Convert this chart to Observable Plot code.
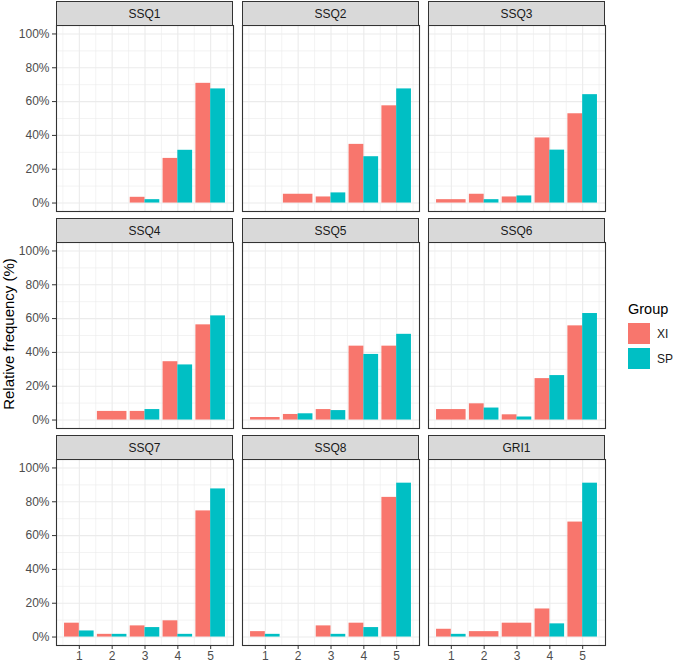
<!DOCTYPE html>
<html>
<head>
<meta charset="utf-8">
<script src="https://cdn.jsdelivr.net/npm/d3@7"></script>
<script src="https://cdn.jsdelivr.net/npm/@observablehq/plot@0.6"></script>
<style>
  body { margin: 0; background: #fff; font-family: "Liberation Sans", Arial, sans-serif; }
  #fig { position: relative; width: 676px; height: 664px; overflow: hidden; background: #fff; }
  .strip { position: absolute; box-sizing: border-box; background: #d9d9d9; border: 1px solid #333;
           font-size: 12px; color: #1a1a1a; display: flex; align-items: center; justify-content: center; }
  .panel { position: absolute; }
  .ytitle { position: absolute; left: 8px; top: 334px; transform: translate(-50%, -50%) rotate(-90deg);
            white-space: nowrap; font-size: 15px; color: #000; }
  .legtitle { position: absolute; left: 628px; top: 302px; font-size: 14.5px; line-height: 1; color: #000; }
  .key { position: absolute; left: 628px; width: 22px; height: 21px; }
  .klab { position: absolute; left: 657px; font-size: 12px; line-height: 1; color: #1a1a1a; }
</style>
</head>
<body>
<div id="fig"></div>
<script>
// ---- data ----
const panelNames = ["SSQ1", "SSQ2", "SSQ3", "SSQ4", "SSQ5", "SSQ6", "SSQ7", "SSQ8", "GRI1"];
const levels = [1, 2, 3, 4, 5];
const groups = ["XI", "SP"];
const groupColors = ["#F8766D", "#00BFC4"];
// relative frequency (%) per panel, per level 1..5 (null = no answers)
const xiPct = [
  [null, null, 3.4, 26.4, 70.8],
  [null, 5.2, 3.6, 34.7, 57.5],
  [2.0, 5.2, 3.6, 38.5, 52.8],
  [null, 5.1, 5.1, 34.5, 56.3],
  [1.5, 3.3, 6.2, 43.7, 43.7],
  [6.2, 9.6, 3.1, 24.5, 55.7],
  [8.2, 1.6, 6.6, 9.6, 74.6],
  [3.2, null, 6.6, 8.2, 82.6],
  [4.6, 3.2, 8.2, 16.6, 68.0]
];
const spPct = [
  [null, null, 2.0, 31.2, 67.5],
  [null, null, 6.0, 27.4, 67.5],
  [null, 2.0, 4.2, 31.3, 64.1],
  [null, null, 6.2, 32.6, 61.6],
  [null, 3.7, 5.6, 38.8, 50.7],
  [null, 7.1, 1.8, 26.3, 63.0],
  [3.6, 1.6, 5.6, 1.6, 87.6],
  [1.6, null, 1.6, 5.6, 91.0],
  [1.6, null, null, 7.8, 91.0]
];
const yMajor = [0, 20, 40, 60, 80, 100];
const yMinor = [10, 30, 50, 70, 90];
const xMinor = [0.5, 1.5, 2.5, 3.5, 4.5, 5.5];

// ---- layout ----
const colLeft = [56, 242, 428];
const rowTop = [1, 218, 435];
const stripH = 24, panelW = 177, panelH = 186;
const dodge = 0.9;

const fig = document.getElementById("fig");

panelNames.forEach((name, p) => {
  const r = Math.floor(p / 3), c = p % 3;
  // dodge bars like ggplot position_dodge
  const rows = [];
  levels.forEach((L, i) => {
    const vals = [xiPct[p][i], spPct[p][i]];
    const present = groups.map((g, k) => ({ g, v: vals[k] })).filter(d => d.v != null);
    const w = dodge / present.length;
    present.forEach((d, k) => {
      rows.push({ level: L, group: d.g, value: d.v, x1: L - dodge / 2 + k * w, x2: L - dodge / 2 + (k + 1) * w });
    });
  });

  const ml = c === 0 ? 56 : 2, mr = 2, mt = 2, mb = r === 2 ? 26 : 2;
  const marks = [
    Plot.gridY(yMinor, { stroke: "#ebebeb", strokeOpacity: 1, strokeWidth: 0.6 }),
    Plot.gridX(xMinor, { stroke: "#ebebeb", strokeOpacity: 1, strokeWidth: 0.6 }),
    Plot.gridY(yMajor, { stroke: "#ebebeb", strokeOpacity: 1, strokeWidth: 1.1 }),
    Plot.gridX(levels, { stroke: "#ebebeb", strokeOpacity: 1, strokeWidth: 1.1 }),
    Plot.rect(rows, { x1: "x1", x2: "x2", y1: 0, y2: "value", fill: "group" }),
    Plot.frame({ stroke: "#333", strokeWidth: 1.1 })
  ];
  if (c === 0) marks.push(Plot.axisY(yMajor, { tickFormat: d => d + "%", tickSize: 4, tickPadding: 3, fontSize: 12, stroke: "#333", fill: "#4d4d4d", label: null }));
  if (r === 2) marks.push(Plot.axisX(levels, { tickFormat: d => String(d), tickSize: 4, tickPadding: 2, fontSize: 12, stroke: "#333", fill: "#4d4d4d", label: null }));

  const svg = Plot.plot({
    width: panelW + ml + mr,
    height: panelH + mt + mb,
    marginLeft: ml, marginRight: mr, marginTop: mt, marginBottom: mb,
    style: { background: "transparent", fontFamily: "Liberation Sans, Arial, sans-serif", fontSize: "12px", overflow: "visible" },
    x: { domain: [0.305, 5.695], label: null, axis: r === 2 ? undefined : null },
    y: { domain: [-5, 105], label: null, axis: c === 0 ? undefined : null },
    color: { domain: groups, range: groupColors },
    marks
  });
  const holder = document.createElement("div");
  holder.className = "panel";
  holder.style.left = (colLeft[c] - ml) + "px";
  holder.style.top = (rowTop[r] + stripH - mt) + "px";
  holder.appendChild(svg);
  fig.appendChild(holder);

  const strip = document.createElement("div");
  strip.className = "strip";
  strip.style.left = colLeft[c] + "px";
  strip.style.top = rowTop[r] + "px";
  strip.style.width = panelW + "px";
  strip.style.height = (stripH + 1) + "px";
  strip.textContent = name;
  fig.appendChild(strip);
});

// axis title
const yt = document.createElement("div");
yt.className = "ytitle";
yt.textContent = "Relative frequency (%)";
fig.appendChild(yt);

// legend
const lt = document.createElement("div");
lt.className = "legtitle";
lt.textContent = "Group";
fig.appendChild(lt);
const keyTops = [323, 348];
groups.forEach((g, i) => {
  const k = document.createElement("div");
  k.className = "key";
  k.style.top = keyTops[i] + "px";
  k.style.background = groupColors[i];
  fig.appendChild(k);
  const l = document.createElement("div");
  l.className = "klab";
  l.style.top = (keyTops[i] + 5) + "px";
  l.textContent = g;
  fig.appendChild(l);
});
</script>
</body>
</html>
